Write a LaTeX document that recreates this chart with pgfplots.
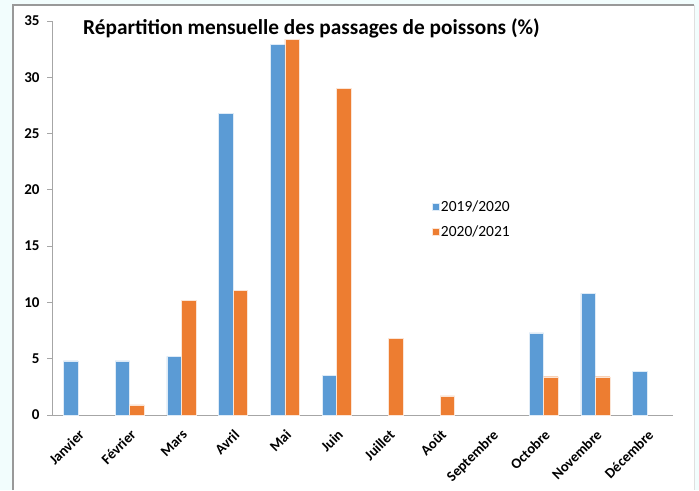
\documentclass[border=0pt]{standalone}
\usepackage{pgfplots}
\pgfplotsset{compat=1.18}
\usepackage{fontspec}
\setmainfont{Carlito}
\definecolor{bgc}{HTML}{F2FDFD}
\definecolor{bblue}{HTML}{5B9BD5}
\definecolor{borange}{HTML}{ED7D31}
\definecolor{axgray}{HTML}{A6A6A6}
\begin{document}
\begin{tikzpicture}[x=1pt,y=1pt]
\fill[bgc] (0,0) rectangle (699,490);
\fill[white] (13,0) rectangle (694,485);
\draw[gray!80, line width=1.2pt] (13,0) -- (13,485) -- (694,485);
\draw[gray!25, line width=1pt] (694,485) -- (694,0);
\begin{axis}[
  at={(52pt,75pt)}, anchor=south west,
  scale only axis, width=621pt, height=394pt,
  xmin=-0.5, xmax=11.5, ymin=0, ymax=35,
  axis lines*=left,
  axis line style={axgray, line width=1pt},
  ytick={0,5,...,35},
  ytick style={axgray, line width=1pt},
  tick align=outside,
  major tick length=5pt,
  minor tick length=5pt,
  xtick={0,...,11},
  xticklabels={Janvier,Février,Mars,Avril,Mai,Juin,Juillet,Août,Septembre,Octobre,Novembre,Décembre},
  xtick style={draw=none},
  minor xtick={-0.5,0.5,...,11.5},
  every minor tick/.append style={axgray, line width=1pt, draw=axgray},
  x tick label style={rotate=45, anchor=north east, font=\bfseries\fontsize{14.5}{15}\selectfont, inner sep=1pt, yshift=-5pt, xshift=-5pt},
  y tick label style={font=\bfseries\fontsize{15}{15}\selectfont, xshift=-4pt},
  /pgf/number format/assume math mode=true,
  ybar=0pt, bar width=14.5pt,
  legend style={draw=none, fill=none, at={(0.606,0.555)}, anchor=north west, font=\fontsize{15.5}{17}\selectfont, row sep=9pt},
  legend cell align=left,
  legend image code/.code={\fill[#1] (0pt,-3.5pt) rectangle (7pt,3.5pt);},
  clip=false,
]
\addplot[fill=bblue, draw=white!80!bblue, line width=0.4pt] coordinates {
(0,4.8) (1,4.8) (2,5.2) (3,26.8) (4,32.9) (5,3.5) (9,7.3) (10,10.8) (11,3.9)};
\addplot[fill=borange, draw=white!80!borange, line width=0.4pt] coordinates {
(1,0.9) (2,10.2) (3,11.1) (4,33.4) (5,29.0) (6,6.8) (7,1.7) (9,3.4) (10,3.4)};
\legend{2019/2020,2020/2021}
\end{axis}
\node[anchor=base west, font=\bfseries\fontsize{21.3}{22}\selectfont, inner sep=0pt] at (83,455) {Répartition mensuelle des passages de poissons (\%)};
\end{tikzpicture}
\end{document}
